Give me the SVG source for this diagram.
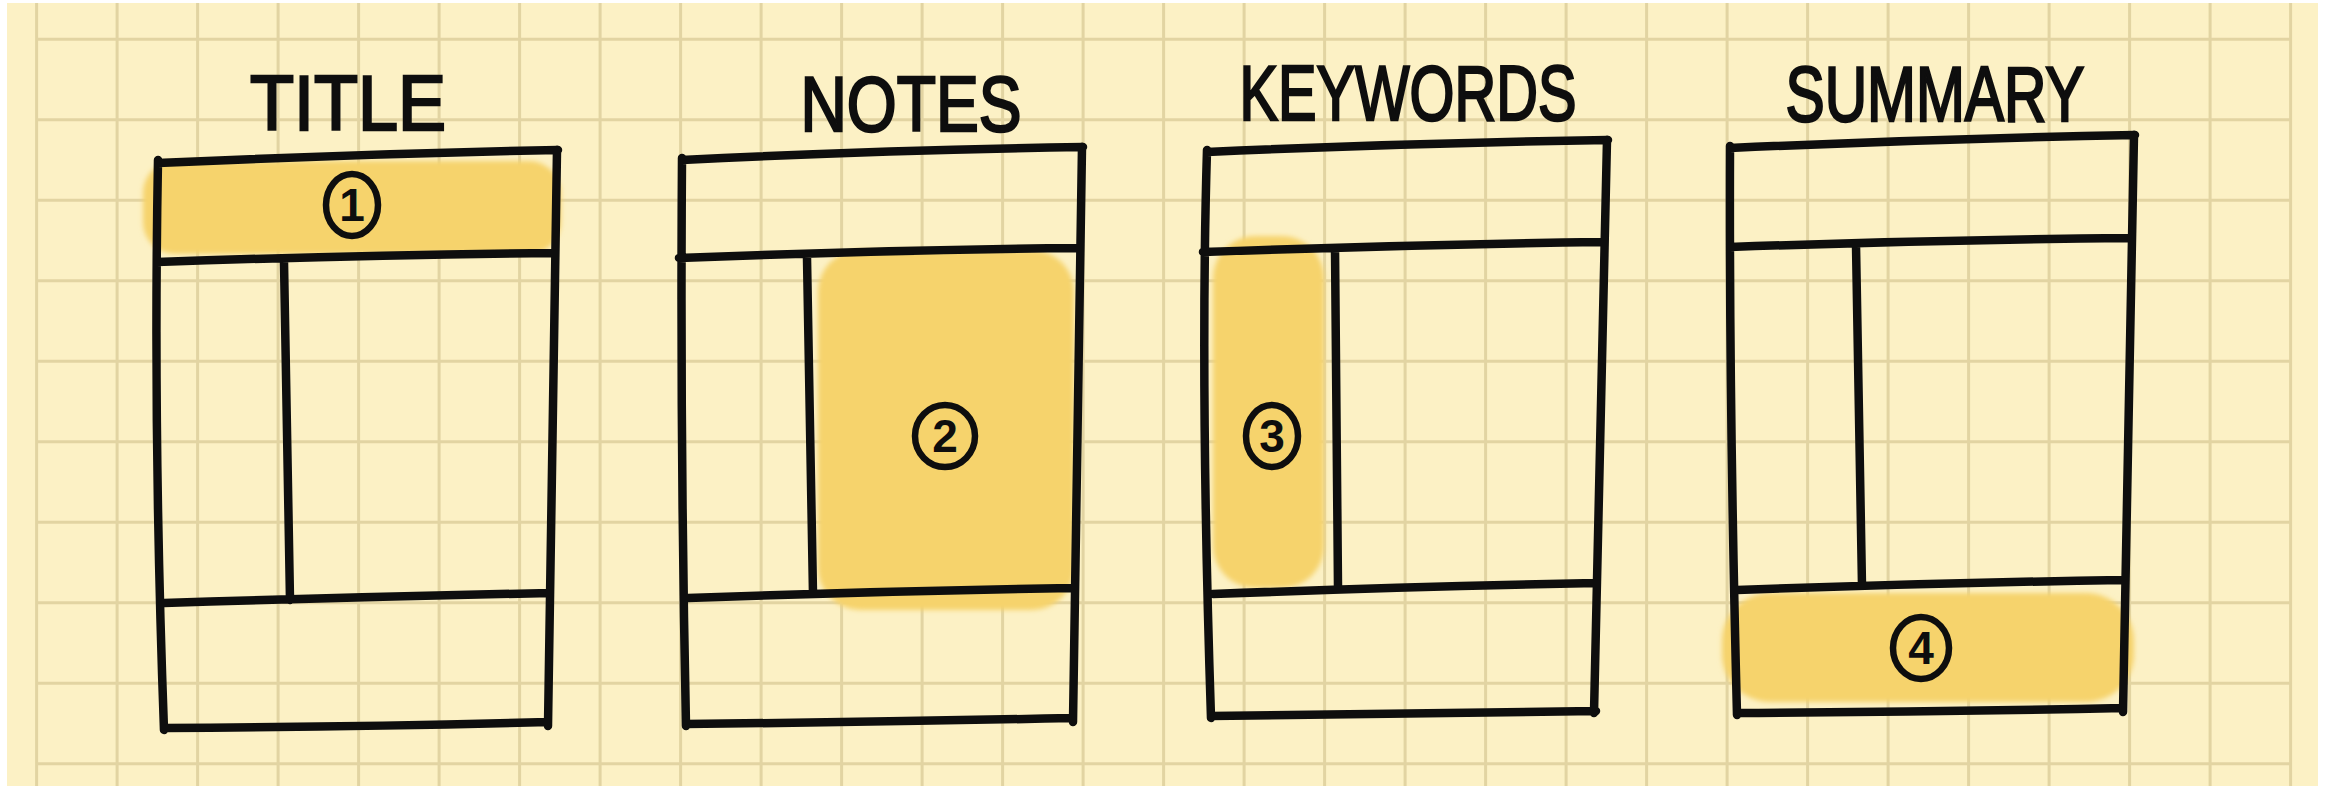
<svg xmlns="http://www.w3.org/2000/svg" width="2333" height="786" viewBox="0 0 2333 786">
  <defs>
    <filter id="soft" x="-10%" y="-10%" width="120%" height="120%">
      <feGaussianBlur stdDeviation="2.5"/>
    </filter>
  </defs>
  <style>
    .grid { stroke: #E2D4A2; stroke-width: 3; fill: none; }
    .ink { stroke: #0E0E0E; stroke-width: 8.5; fill: none; stroke-linecap: round; stroke-linejoin: round; }
    .hl { fill: #F6D36C; filter: url(#soft); }
    .label { font-family: "Liberation Sans", Arial, sans-serif; font-size: 78px; fill: #0E0E0E; stroke: #0E0E0E; stroke-width: 2.5; text-anchor: middle; }
    .num { font-family: "Liberation Sans", Arial, sans-serif; font-size: 46px; font-weight: bold; fill: #0E0E0E; text-anchor: middle; }
    .ring { stroke: #0E0E0E; stroke-width: 6.5; fill: none; }
  </style>

  <rect x="0" y="0" width="2333" height="786" fill="#FFFFFF"/>
  <rect x="7" y="3" width="2311" height="783" fill="#FCF1C5"/>

  <g id="grid">
    <path class="grid" d="M36.6 3V786 M117.1 3V786 M197.6 3V786 M278.1 3V786 M358.6 3V786 M439.1 3V786 M519.6 3V786 M600.1 3V786 M680.6 3V786 M761.1 3V786 M841.6 3V786 M922.1 3V786 M1002.6 3V786 M1083.1 3V786 M1163.6 3V786 M1244.1 3V786 M1324.6 3V786 M1405.1 3V786 M1485.6 3V786 M1566.1 3V786 M1646.6 3V786 M1727.1 3V786 M1807.6 3V786 M1888.1 3V786 M1968.6 3V786 M2049.1 3V786 M2129.6 3V786 M2210.1 3V786 M2290.6 3V786"/>
    <path class="grid" d="M36.6 39.3H2290.6 M36.6 119.8H2290.6 M36.6 200.3H2290.6 M36.6 280.8H2290.6 M36.6 361.3H2290.6 M36.6 441.8H2290.6 M36.6 522.3H2290.6 M36.6 602.8H2290.6 M36.6 683.3H2290.6 M36.6 763.8H2290.6"/>
  </g>

  <g id="highlights">
    <rect class="hl" x="143" y="161" width="418" height="93" rx="32"/>
    <rect class="hl" x="818" y="250" width="256" height="360" rx="42"/>
    <rect class="hl" x="1213" y="236" width="111" height="352" rx="42"/>
    <rect class="hl" x="1722" y="593" width="412" height="109" rx="48"/>
  </g>

  <g id="node-title">
    <text class="label" x="348" y="130" textLength="196" lengthAdjust="spacingAndGlyphs">TITLE</text>
    <path class="ink" d="M158 163 Q360 154 558 150 M158 160 Q153 430 164 730 M557 150 Q553 440 548 726 M157 262 Q360 255 555 253 M164 603 Q360 597 550 593 M164 728 Q360 727 548 722 M284 262 Q287 430 290 600"/>
    <ellipse class="ring" cx="352" cy="205" rx="26" ry="31"/>
    <text class="num" x="352" y="221">1</text>
  </g>

  <g id="node-notes">
    <text class="label" x="911" y="131" textLength="221" lengthAdjust="spacingAndGlyphs">NOTES</text>
    <path class="ink" d="M682 160 Q880 150 1083 147 M682 158 Q680 440 686 726 M1082 147 Q1078 440 1073 722 M679 258 Q880 250 1079 248 M688 598 Q880 591 1072 588 M686 724 Q880 722 1073 718 M807 258 Q810 430 813 594"/>
    <ellipse class="ring" cx="945" cy="436" rx="30" ry="31"/>
    <text class="num" x="945" y="452">2</text>
  </g>

  <g id="node-keywords">
    <text class="label" x="1408" y="120" textLength="337" lengthAdjust="spacingAndGlyphs">KEYWORDS</text>
    <path class="ink" d="M1207 152 Q1410 143 1608 140 M1207 150 Q1200 380 1211 718 M1607 140 Q1601 420 1594 713 M1203 252 Q1400 245 1602 242 M1213 594 Q1400 587 1596 583 M1211 716 Q1400 714 1596 711 M1335 248 Q1336 420 1338 588"/>
    <ellipse class="ring" cx="1272" cy="436" rx="26" ry="31"/>
    <text class="num" x="1272" y="452">3</text>
  </g>

  <g id="node-summary">
    <text class="label" x="1935" y="121" textLength="299" lengthAdjust="spacingAndGlyphs">SUMMARY</text>
    <path class="ink" d="M1730 148 Q1930 139 2135 135 M1730 146 Q1729 400 1737 715 M2134 135 Q2129 420 2123 712 M1730 247 Q1930 240 2129 238 M1737 590 Q1930 583 2123 580 M1737 713 Q1930 712 2123 708 M1856 245 Q1859 420 1862 586"/>
    <ellipse class="ring" cx="1921" cy="648" rx="28" ry="31"/>
    <text class="num" x="1921" y="664">4</text>
  </g>

  <g id="connectors"></g>
</svg>
